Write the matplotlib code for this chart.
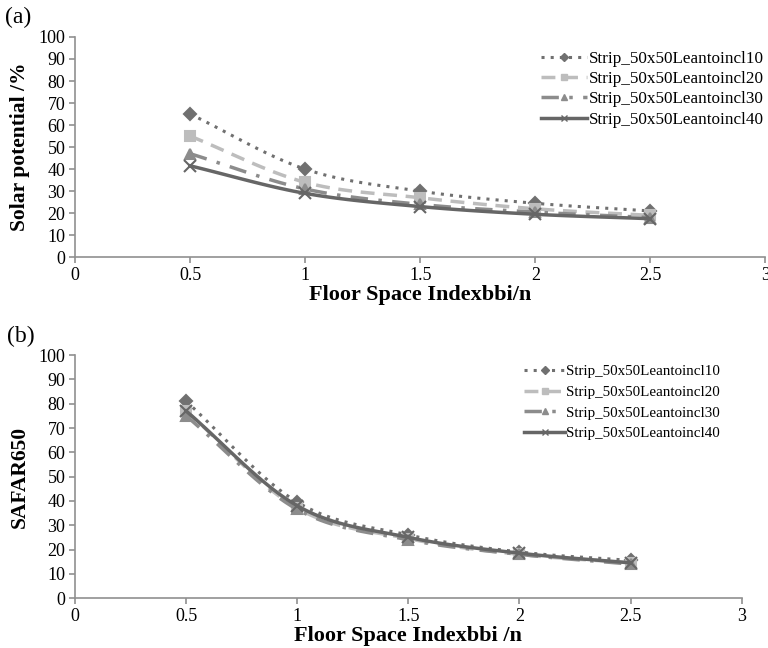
import numpy as np
import matplotlib
matplotlib.use('Agg')
import matplotlib.pyplot as plt

plt.rcParams['font.family'] = ['Liberation Serif', 'DejaVu Serif']

fsi = [0.5, 1.0, 1.5, 2.0, 2.5]
names = ['Strip_50x50Leantoincl10', 'Strip_50x50Leantoincl20',
         'Strip_50x50Leantoincl30', 'Strip_50x50Leantoincl40']

# (a) solar potential /%
solar_10 = [65.0, 40.0, 30.0, 24.5, 21.0]
solar_20 = [55.0, 34.0, 27.0, 22.0, 19.0]
solar_30 = [47.0, 31.0, 24.0, 20.5, 18.0]
solar_40 = [41.5, 29.0, 23.0, 19.5, 17.5]

# (b) SAFAR650
safar_10 = [81.0, 39.5, 26.0, 19.0, 15.5]
safar_20 = [77.0, 37.0, 24.5, 18.0, 14.5]
safar_30 = [75.0, 36.5, 24.0, 18.0, 14.0]
safar_40 = [77.0, 38.0, 25.0, 18.5, 14.5]

styles = [
    dict(color='#707070', ls=(0, (1, 2)), lw=2.2, marker='D', ms=6),
    dict(color='#bdbdbd', ls=(0, (4, 2.5)), lw=2.5, marker='s', ms=7),
    dict(color='#8c8c8c', ls=(0, (5, 3, 1, 3)), lw=2.5, marker='^', ms=7),
    dict(color='#666666', ls='-', lw=2.5, marker='x', ms=8),
]


def smooth(x, y, n=20):
    # Catmull-Rom style curve through the points (like excel smoothed lines)
    x = np.asarray(x, float)
    y = np.asarray(y, float)
    px = np.concatenate([[2 * x[0] - x[1]], x, [2 * x[-1] - x[-2]]])
    py = np.concatenate([[2 * y[0] - y[1]], y, [2 * y[-1] - y[-2]]])
    xs, ys = [], []
    for i in range(1, len(px) - 2):
        t = np.linspace(0, 1, n)
        for p, out in ((px, xs), (py, ys)):
            p0, p1, p2, p3 = p[i - 1], p[i], p[i + 1], p[i + 2]
            out.extend(0.5 * (2 * p1 + (-p0 + p2) * t
                              + (2 * p0 - 5 * p1 + 4 * p2 - p3) * t ** 2
                              + (-p0 + 3 * p1 - 3 * p2 + p3) * t ** 3))
    return xs, ys


def draw(ax, series, ylabel, xlabel, panel, leg_fs, leg_x, leg_y, leg_sp, panel_y):
    for ys, name, st in zip(series, names, styles):
        sx, sy = smooth(fsi, ys)
        ax.plot(sx, sy, color=st['color'], ls=st['ls'], lw=st['lw'])
        ax.plot(fsi, ys, ls='none', marker=st['marker'], ms=st['ms'],
                color=st['color'], mew=1.5)
        ax.plot([], [], color=st['color'], ls=st['ls'], lw=st['lw'],
                marker=st['marker'], ms=4, label=name)
    ax.set_xlim(0, 3)
    ax.set_ylim(0, 100)
    ax.set_xticks([0, 0.5, 1, 1.5, 2, 2.5, 3])
    ax.set_xticklabels(['0', '0.5', '1', '1.5', '2', '2.5', '3'])
    ax.set_yticks(range(0, 101, 10))
    for s in ['top', 'right']:
        ax.spines[s].set_visible(False)
    for s in ['left', 'bottom']:
        ax.spines[s].set_color('#909090')
        ax.spines[s].set_linewidth(1.2)
    ax.tick_params(colors='#909090', labelcolor='black', labelsize=13,
                   length=4, width=1.2, pad=3)
    ax.set_ylabel(ylabel, fontsize=15.5, fontweight='bold', labelpad=6)
    ax.set_xlabel(xlabel, fontsize=16, fontweight='bold', labelpad=1)
    ax.legend(loc='upper right', bbox_to_anchor=(leg_x, leg_y),
              frameon=False, fontsize=leg_fs,
              handlelength=2.7, handletextpad=0.1, labelspacing=leg_sp)
    ax.text(-0.082, panel_y, panel, transform=ax.transAxes, fontsize=17,
            ha='center', va='center')


fig = plt.figure(figsize=(7.68, 6.48), dpi=100)
ax1 = fig.add_axes([0.0977, 0.603, 0.899, 0.34])
ax2 = fig.add_axes([0.0977, 0.077, 0.868, 0.375])

draw(ax1, [solar_10, solar_20, solar_30, solar_40],
     'Solar potential /%', 'Floor Space Indexbbi/n', '(a)',
     12.3, 1.02, 1.005, 0.24, 1.09)
draw(ax2, [safar_10, safar_20, safar_30, safar_40],
     'SAFAR650', 'Floor Space Indexbbi /n', '(b)',
     10.8, 0.988, 1.015, 0.47, 1.075)

fig.savefig('out.png', dpi=100)
